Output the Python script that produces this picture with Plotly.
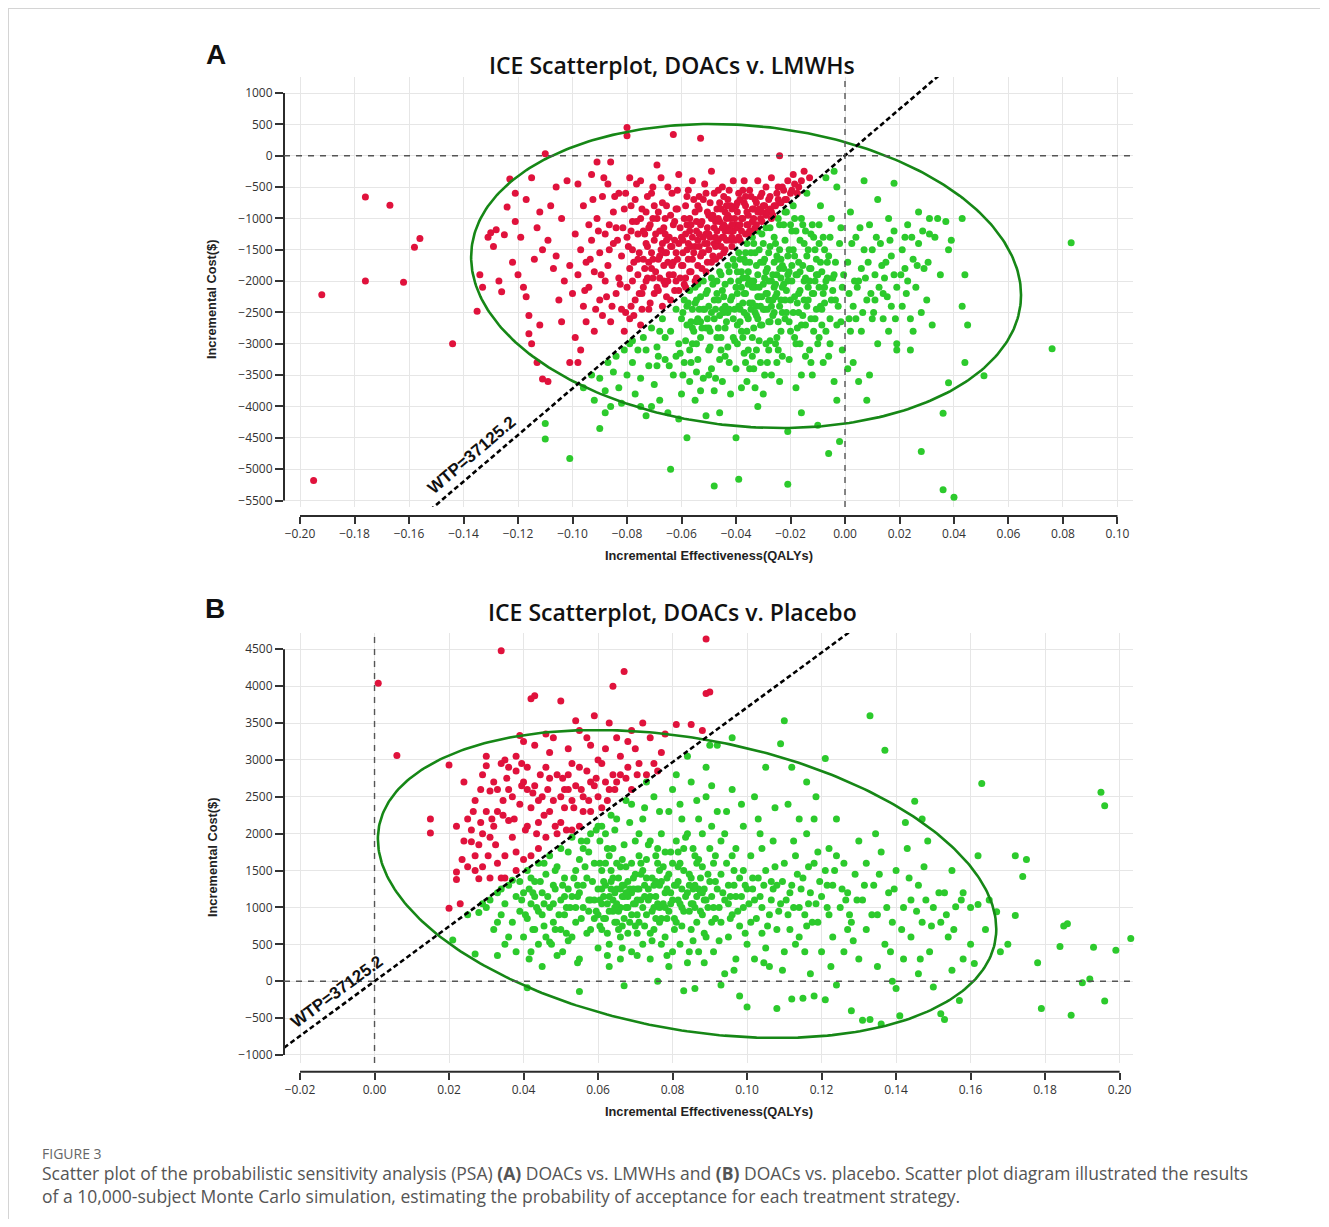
import numpy as np
import plotly.graph_objects as go

WTP = 37125.2

A_X_TICKS = [-0.20, -0.18, -0.16, -0.14, -0.12, -0.10, -0.08, -0.06, -0.04, -0.02, 0.00, 0.02, 0.04, 0.06, 0.08, 0.10]
A_X_LABELS = ["−0.20", "−0.18", "−0.16", "−0.14", "−0.12", "−0.10", "−0.08", "−0.06", "−0.04", "−0.02", "0.00", "0.02", "0.04", "0.06", "0.08", "0.10"]
A_Y_TICKS = [1000, 500, 0, -500, -1000, -1500, -2000, -2500, -3000, -3500, -4000, -4500, -5000, -5500]
A_Y_LABELS = ["1000", "500", "0", "−500", "−1000", "−1500", "−2000", "−2500", "−3000", "−3500", "−4000", "−4500", "−5000", "−5500"]
B_X_TICKS = [-0.02, 0.00, 0.02, 0.04, 0.06, 0.08, 0.10, 0.12, 0.14, 0.16, 0.18, 0.20]
B_X_LABELS = ["−0.02", "0.00", "0.02", "0.04", "0.06", "0.08", "0.10", "0.12", "0.14", "0.16", "0.18", "0.20"]
B_Y_TICKS = [4500, 4000, 3500, 3000, 2500, 2000, 1500, 1000, 500, 0, -500, -1000]
B_Y_LABELS = ["4500", "4000", "3500", "3000", "2500", "2000", "1500", "1000", "500", "0", "−500", "−1000"]

# Panel A: (incremental effectiveness, incremental cost)
A_POINTS = [
    (-0.195, -5180), (-0.192, -2220), (-0.176, -660), (-0.176, -2000), (-0.167, -790), (-0.162, -2020),
    (-0.158, -1460), (-0.156, -1320), (-0.144, -3000), (-0.135, -2480),
    (-0.134, -1900), (-0.133, -2100), (-0.131, -1300), (-0.130, -1230), (-0.129, -1450), (-0.128, -1180),
    (-0.127, -2000), (-0.126, -2170), (-0.125, -1260), (-0.124, -820), (-0.123, -370), (-0.122, -1700),
    (-0.121, -1050), (-0.120, -1900), (-0.121, -600),
    (-0.119, -1300), (-0.118, -2100), (-0.117, -2250), (-0.117, -700), (-0.116, -2550), (-0.116, -2840),
    (-0.115, -3000), (-0.114, -1650), (-0.113, -3300), (-0.112, -2700), (-0.111, -1500), (-0.111, -3560),
    (-0.110, 30), (-0.109, -3600), (-0.108, -800), (-0.107, -1800), (-0.106, -1600), (-0.105, -2300),
    (-0.104, -1000), (-0.103, -2000), (-0.102, -400), (-0.101, -3300), (-0.113, -1150), (-0.109, -1350),
    (-0.106, -500), (-0.104, -2650), (-0.101, -1750), (-0.100, -2200), (-0.115, -350), (-0.112, -900),
    (-0.099, -1250), (-0.099, -2900), (-0.098, -450), (-0.098, -1900), (-0.097, -3100), (-0.097, -1500),
    (-0.096, -2400), (-0.096, -800), (-0.095, -1700), (-0.095, -2650), (-0.094, -1100), (-0.094, -2100),
    (-0.093, -300), (-0.093, -1350), (-0.092, -2800), (-0.092, -1850), (-0.091, -100), (-0.091, -1000),
    (-0.090, -2300), (-0.090, -1550), (-0.089, -650), (-0.089, -2550), (-0.088, -1250), (-0.088, -2000),
    (-0.087, -1750), (-0.087, -450), (-0.086, -100), (-0.086, -2650), (-0.085, -1400), (-0.085, -900),
    (-0.084, -2200), (-0.084, -1150), (-0.083, -1950), (-0.083, -600), (-0.082, -2450), (-0.082, -1600),
    (-0.081, -850), (-0.081, -2800), (-0.080, 450), (-0.080, 320), (-0.080, -1300), (-0.080, -2100),
    (-0.079, -350), (-0.079, -1800), (-0.098, -3300),
    (-0.079, -2600), (-0.078, -1050), (-0.078, -1500), (-0.077, -2300), (-0.077, -700), (-0.076, -1900),
    (-0.076, -1250), (-0.075, -2700), (-0.075, -400), (-0.074, -1650), (-0.074, -2100), (-0.073, -900),
    (-0.073, -1400), (-0.072, -2450), (-0.072, -1150), (-0.071, -1800), (-0.071, -600), (-0.070, -2200),
    (-0.070, -1350), (-0.069, -150), (-0.069, -1000), (-0.068, -1950), (-0.068, -1600), (-0.067, -2400),
    (-0.067, -750), (-0.066, -1250), (-0.066, -2050), (-0.065, -500), (-0.065, -1700), (-0.064, -1450),
    (-0.064, -2300), (-0.063, 340), (-0.063, -1100), (-0.063, -1900), (-0.062, -850), (-0.062, -1550),
    (-0.061, -2150), (-0.061, -300), (-0.060, -1300), (-0.060, -1750), (-0.076, -1650), (-0.073, -2000),
    (-0.070, -800), (-0.068, -1200), (-0.066, -1550), (-0.064, -950), (-0.062, -2000), (-0.078, -2000),
    (-0.074, -1200), (-0.072, -1700), (-0.069, -2100), (-0.067, -1400), (-0.065, -2000), (-0.063, -1700),
    (-0.061, -1400), (-0.071, -1550), (-0.075, -1000), (-0.066, -1000),
    (-0.059, -2050), (-0.059, -1000), (-0.058, -1500), (-0.058, -650), (-0.057, -1850), (-0.057, -1200),
    (-0.056, -1650), (-0.056, -400), (-0.055, -2000), (-0.055, -900), (-0.054, -1350), (-0.054, -1750),
    (-0.053, 280), (-0.053, -1100), (-0.052, -1550), (-0.052, -700), (-0.051, -1850), (-0.051, -1250),
    (-0.050, -950), (-0.050, -1500), (-0.049, -250), (-0.049, -1700), (-0.048, -1150), (-0.048, -600),
    (-0.047, -1400), (-0.047, -850), (-0.046, -1600), (-0.046, -1050), (-0.045, -1300), (-0.045, -500),
    (-0.044, -1500), (-0.044, -900), (-0.043, -1150), (-0.043, -700), (-0.042, -1350), (-0.042, -1000),
    (-0.041, -1200), (-0.041, -400), (-0.040, -800), (-0.040, -1100), (-0.058, -1100), (-0.056, -1300),
    (-0.054, -800), (-0.053, -1600), (-0.051, -600), (-0.050, -1250), (-0.048, -1400), (-0.046, -750),
    (-0.045, -1150), (-0.043, -950), (-0.057, -1000), (-0.055, -1450), (-0.052, -1300), (-0.049, -1000),
    (-0.047, -1200), (-0.044, -1200), (-0.042, -800),
    (-0.039, -1300), (-0.039, -600), (-0.038, -1000), (-0.038, -1200), (-0.037, -750), (-0.037, -400),
    (-0.036, -1100), (-0.036, -900), (-0.035, -1200), (-0.035, -550), (-0.034, -850), (-0.034, -1050),
    (-0.033, -700), (-0.033, -1150), (-0.032, -900), (-0.032, -400), (-0.031, -1000), (-0.031, -650),
    (-0.030, -800), (-0.029, -950), (-0.029, -500), (-0.028, -700), (-0.027, -900), (-0.027, -350),
    (-0.026, -800), (-0.025, -600), (-0.024, 0), (-0.024, -750), (-0.023, -500), (-0.022, -700),
    (-0.021, -400), (-0.020, -600), (-0.019, -300), (-0.017, -500), (-0.015, -250), (-0.013, -350),
    (-0.016, -400),
    (-0.110, -4270), (-0.110, -4520), (-0.101, -4830), (-0.090, -4350), (-0.096, -3700), (-0.093, -3500),
    (-0.092, -3900), (-0.090, -3550), (-0.088, -3750), (-0.087, -3300), (-0.086, -4000), (-0.085, -3450),
    (-0.084, -3200), (-0.083, -3700), (-0.082, -3950), (-0.081, -3100), (-0.080, -3500), (-0.088, -4100),
    (-0.079, -3000), (-0.078, -3300), (-0.077, -3800), (-0.076, -3100), (-0.075, -3550), (-0.074, -2900),
    (-0.073, -4150), (-0.072, -3350), (-0.071, -2750), (-0.070, -3650), (-0.069, -3050), (-0.068, -3900),
    (-0.067, -2600), (-0.066, -3250), (-0.065, -4100), (-0.064, -5000), (-0.064, -2800), (-0.063, -3500),
    (-0.062, -2450), (-0.061, -3000), (-0.060, -3800), (-0.060, -2600), (-0.078, -2950), (-0.073, -3100),
    (-0.069, -3350), (-0.066, -2900), (-0.062, -3200), (-0.061, -4200), (-0.071, -4000), (-0.075, -4000),
    (-0.068, -2800),
    (-0.059, -2300), (-0.059, -3300), (-0.058, -2700), (-0.058, -4500), (-0.057, -2150), (-0.057, -3600),
    (-0.056, -2450), (-0.056, -3000), (-0.055, -2100), (-0.055, -3900), (-0.054, -2600), (-0.054, -3250),
    (-0.053, -2250), (-0.053, -2900), (-0.052, -3550), (-0.052, -2000), (-0.051, -2750), (-0.051, -4150),
    (-0.050, -2400), (-0.050, -3100), (-0.049, -1950), (-0.049, -3400), (-0.048, -2600), (-0.048, -5270),
    (-0.048, -3750), (-0.047, -2200), (-0.047, -2900), (-0.046, -1850), (-0.046, -3250), (-0.045, -2450),
    (-0.045, -3600), (-0.044, -2050), (-0.044, -2750), (-0.043, -1750), (-0.043, -3050), (-0.042, -2300),
    (-0.042, -3800), (-0.041, -1650), (-0.041, -2600), (-0.040, -2100), (-0.040, -3400), (-0.058, -2400),
    (-0.056, -2750), (-0.054, -2050), (-0.052, -2450), (-0.050, -2750), (-0.048, -2300), (-0.046, -2550),
    (-0.044, -2400), (-0.042, -2000), (-0.041, -2900), (-0.055, -2350), (-0.053, -2650), (-0.051, -2200),
    (-0.049, -2500), (-0.047, -2000), (-0.045, -2150), (-0.043, -2500), (-0.057, -3100), (-0.050, -3500),
    (-0.044, -3200), (-0.046, -4100), (-0.053, -3750), (-0.040, -4500),
    (-0.039, -1550), (-0.039, -2400), (-0.039, -5160), (-0.038, -1850), (-0.038, -2800), (-0.038, -3700),
    (-0.037, -1650), (-0.037, -2200), (-0.037, -3150), (-0.036, -1400), (-0.036, -2550), (-0.036, -1950),
    (-0.035, -2350), (-0.035, -3400), (-0.035, -1700), (-0.034, -2100), (-0.034, -1300), (-0.034, -2900),
    (-0.033, -2500), (-0.033, -1550), (-0.033, -3700), (-0.032, -1900), (-0.032, -2250), (-0.032, -1200),
    (-0.031, -2700), (-0.031, -1700), (-0.031, -3300), (-0.030, -2050), (-0.030, -1400), (-0.030, -2450),
    (-0.029, -1150), (-0.029, -1850), (-0.029, -3000), (-0.028, -2300), (-0.028, -1550), (-0.028, -2650),
    (-0.027, -1000), (-0.027, -2000), (-0.027, -3500), (-0.026, -1700), (-0.026, -2500), (-0.026, -1300),
    (-0.025, -2200), (-0.025, -2900), (-0.025, -1900), (-0.024, -1100), (-0.024, -2400), (-0.024, -1500),
    (-0.023, -2100), (-0.023, -3200), (-0.023, -1750), (-0.022, -900), (-0.022, -2600), (-0.022, -1350),
    (-0.021, -2000), (-0.021, -5240), (-0.021, -4400), (-0.021, -1600), (-0.020, -2300), (-0.020, -1100),
    (-0.020, -2800), (-0.038, -2100), (-0.036, -2800), (-0.034, -2350), (-0.032, -2600), (-0.030, -1700),
    (-0.028, -2000), (-0.026, -2100), (-0.024, -1800), (-0.022, -2300), (-0.037, -2500), (-0.035, -2000),
    (-0.033, -2100), (-0.031, -2400), (-0.029, -2200), (-0.027, -2400), (-0.025, -1600), (-0.023, -2500),
    (-0.021, -1900), (-0.039, -2000), (-0.030, -3800), (-0.025, -3300), (-0.034, -3200), (-0.028, -3100),
    (-0.036, -3600), (-0.024, -3600), (-0.032, -4000),
    (-0.019, -1500), (-0.019, -2500), (-0.019, -800), (-0.018, -1900), (-0.018, -3000), (-0.018, -1200),
    (-0.017, -2200), (-0.017, -1700), (-0.016, -2700), (-0.016, -1000), (-0.016, -3500), (-0.015, -2000),
    (-0.015, -1400), (-0.014, -2400), (-0.014, -600), (-0.013, -1800), (-0.013, -3100), (-0.012, -5700),
    (-0.012, -2200), (-0.012, -1100), (-0.011, -2600), (-0.011, -1500), (-0.010, -4300), (-0.010, -1900),
    (-0.010, -3000), (-0.009, -800), (-0.009, -2400), (-0.008, -1300), (-0.008, -3300), (-0.007, -2000),
    (-0.007, -2800), (-0.006, -1600), (-0.006, -4750), (-0.005, -2300), (-0.005, -1000), (-0.004, -3600),
    (-0.004, -1900), (-0.003, -2700), (-0.003, -500), (-0.002, -4560), (-0.002, -1400), (-0.001, -2100),
    (-0.001, -3100), (-0.017, -2500), (-0.015, -2300), (-0.013, -2000), (-0.011, -2000), (-0.009, -1700),
    (-0.014, -1600), (-0.008, -2200), (-0.018, -3700), (-0.006, -3200), (-0.012, -3500), (-0.016, -4100),
    (-0.003, -3900), (-0.007, -350), (-0.004, -250),
    (0.001, -1700), (0.001, -3400), (0.002, -900), (0.003, -2400), (0.003, -3300), (0.004, -1300),
    (0.005, -2000), (0.005, -3600), (0.006, -2800), (0.007, -1500), (0.007, -400), (0.008, -2300),
    (0.009, -3500), (0.009, -1100), (0.010, -2600), (0.011, -1900), (0.012, -700), (0.012, -3000),
    (0.013, -1400), (0.014, -2200), (0.015, -1700), (0.016, -2800), (0.016, -1000), (0.017, -2400),
    (0.018, -1900), (0.018, -1200), (0.019, -3000), (0.019, -2100), (0.002, -2800), (0.006, -1800),
    (0.010, -1500), (0.014, -2600), (0.004, -2600), (0.008, -3900), (0.017, -1600), (0.011, -2300),
    (0.018, -440), (0.021, -1500), (0.021, -2400), (0.022, -1800), (0.023, -2000), (0.023, -1100),
    (0.024, -2600), (0.025, -1650), (0.025, -2800), (0.026, -2100), (0.027, -1400), (0.027, -900),
    (0.028, -2500), (0.028, -4720), (0.029, -1800), (0.030, -2300), (0.031, -1000), (0.031, -1250),
    (0.032, -2700), (0.033, -1300), (0.034, -1000), (0.035, -1900), (0.036, -5330), (0.036, -4110),
    (0.037, -1050), (0.038, -3620), (0.038, -1500), (0.039, -1350), (0.024, -3100), (0.022, -1300),
    (0.019, -3100),
    (0.040, -5450), (0.043, -1000), (0.043, -2400), (0.044, -1900), (0.044, -3300), (0.045, -2700),
    (0.051, -3510), (0.076, -3080), (0.083, -1390),
]

# Panel A, the dense core (read at half-grid resolution)
A_POINTS_CORE = [
    (-0.0955, -2150), (-0.0935, -1650), (-0.0925, -700), (-0.0915, -2450), (-0.0905, -1200), (-0.0895, -1900),
    (-0.0885, -350), (-0.0875, -2250), (-0.0865, -1500), (-0.0855, -2400), (-0.0845, -650), (-0.0835, -1350),
    (-0.0825, -2050), (-0.0815, -1150), (-0.0805, -2500), (-0.0805, -600),
    (-0.0795, -1450), (-0.0785, -800), (-0.0775, -1700), (-0.0775, -2550), (-0.0765, -1050), (-0.0765, -450),
    (-0.0755, -1550), (-0.0755, -2200), (-0.0745, -850), (-0.0745, -2450), (-0.0735, -1250), (-0.0735, -1800),
    (-0.0725, -650), (-0.0725, -1950), (-0.0715, -1100), (-0.0715, -2350), (-0.0705, -1650), (-0.0705, -500),
    (-0.0695, -1850), (-0.0695, -1250), (-0.0685, -900), (-0.0685, -2150), (-0.0675, -1500), (-0.0675, -350),
    (-0.0665, -1750), (-0.0665, -1150), (-0.0655, -800), (-0.0655, -2250), (-0.0645, -1300), (-0.0645, -1900),
    (-0.0635, -600), (-0.0635, -1450), (-0.0625, -1050), (-0.0625, -2150), (-0.0615, -1650), (-0.0615, -850),
    (-0.0605, -1950), (-0.0605, -1150),
    (-0.0595, -1350), (-0.0595, -1750), (-0.0585, -800), (-0.0585, -1950), (-0.0575, -1400), (-0.0575, -550),
    (-0.0565, -1100), (-0.0565, -1850), (-0.0555, -1550), (-0.0555, -700), (-0.0545, -1200), (-0.0545, -1950),
    (-0.0535, -850), (-0.0535, -1450), (-0.0525, -1050), (-0.0525, -1800), (-0.0515, -1400), (-0.0515, -450),
    (-0.0505, -1150), (-0.0505, -1700), (-0.0495, -1300), (-0.0495, -750), (-0.0485, -1600), (-0.0485, -950),
    (-0.0475, -1050), (-0.0475, -1650), (-0.0465, -1350), (-0.0465, -550), (-0.0455, -850), (-0.0455, -1450),
    (-0.0445, -1100), (-0.0445, -650), (-0.0435, -1350), (-0.0435, -1000), (-0.0425, -1200), (-0.0425, -550),
    (-0.0415, -850), (-0.0415, -1450), (-0.0405, -1000), (-0.0405, -1350),
    (-0.0395, -900), (-0.0395, -1150), (-0.0385, -700), (-0.0385, -1350), (-0.0375, -1000), (-0.0375, -550),
    (-0.0365, -1250), (-0.0365, -800), (-0.0355, -950), (-0.0355, -1100), (-0.0345, -650), (-0.0345, -1200),
    (-0.0335, -1000), (-0.0325, -750), (-0.0325, -1100), (-0.0315, -850), (-0.0305, -1050), (-0.0305, -600),
    (-0.0295, -800), (-0.0285, -900), (-0.0275, -650), (-0.0265, -950), (-0.0255, -800), (-0.0245, -500),
    (-0.0235, -750), (-0.0225, -550), (-0.0215, -700), (-0.0195, -550), (-0.0185, -450), (-0.0175, -600),
    (-0.0685, -1650), (-0.0655, -1550), (-0.0625, -1350), (-0.0595, -1550), (-0.0565, -1450), (-0.0535, -1250),
    (-0.0505, -1400), (-0.0475, -1300), (-0.0445, -1300), (-0.0415, -1100), (-0.0385, -1100), (-0.0355, -1250),
    (-0.0335, -850), (-0.0305, -900), (-0.0275, -850), (-0.0245, -700), (-0.0635, -1750), (-0.0575, -1650),
    (-0.0525, -1550), (-0.0475, -1450), (-0.0445, -1550), (-0.0415, -1300), (-0.0705, -1950), (-0.0665, -2000),
    (-0.0745, -2200), (-0.0785, -2400), (-0.0655, -1350), (-0.0585, -1250), (-0.0545, -1050), (-0.0505, -900),
    (-0.0465, -1000), (-0.0435, -800), (-0.0395, -750), (-0.0365, -650), (-0.0535, -650), (-0.0615, -550),
    (-0.0705, -1000), (-0.0785, -1200), (-0.0865, -1100), (-0.0725, -1450), (-0.0585, -2100),
    (-0.0595, -2500), (-0.0585, -2950), (-0.0575, -2350), (-0.0565, -2650), (-0.0555, -2800), (-0.0545, -2300),
    (-0.0535, -2450), (-0.0525, -2750), (-0.0515, -2450), (-0.0505, -2150), (-0.0495, -2800), (-0.0485, -2050),
    (-0.0475, -2450), (-0.0465, -2750), (-0.0455, -1900), (-0.0445, -2250), (-0.0435, -2650), (-0.0425, -1850),
    (-0.0415, -2250), (-0.0405, -2450), (-0.0405, -1750), (-0.0595, -3500), (-0.0545, -3450), (-0.0495, -3050),
    (-0.0455, -2900), (-0.0425, -3300), (-0.0565, -3300), (-0.0475, -3550),
    (-0.0395, -2200), (-0.0395, -2700), (-0.0385, -1650), (-0.0385, -2450), (-0.0375, -1950), (-0.0375, -2900),
    (-0.0365, -2200), (-0.0365, -1700), (-0.0355, -2600), (-0.0355, -1850), (-0.0345, -2450), (-0.0345, -1550),
    (-0.0335, -2000), (-0.0335, -2750), (-0.0325, -1750), (-0.0325, -2400), (-0.0315, -2100), (-0.0315, -1500),
    (-0.0305, -2250), (-0.0305, -2700), (-0.0295, -1650), (-0.0295, -2450), (-0.0285, -1800), (-0.0285, -2200),
    (-0.0275, -1450), (-0.0275, -2650), (-0.0265, -1900), (-0.0265, -2300), (-0.0255, -1400), (-0.0255, -2050),
    (-0.0245, -2650), (-0.0245, -1650), (-0.0235, -1950), (-0.0235, -2300), (-0.0225, -1100), (-0.0225, -1800),
    (-0.0215, -2150), (-0.0215, -2500), (-0.0205, -1500), (-0.0205, -1850), (-0.0395, -3000), (-0.0355, -3100),
    (-0.0315, -2950), (-0.0275, -2950), (-0.0235, -2800), (-0.0335, -3400), (-0.0295, -3500), (-0.0255, -3000),
    (-0.0195, -2000), (-0.0195, -1200), (-0.0185, -2250), (-0.0185, -1600), (-0.0175, -1900), (-0.0175, -2750),
    (-0.0165, -1350), (-0.0165, -2150), (-0.0155, -1750), (-0.0155, -2550), (-0.0145, -1950), (-0.0145, -1200),
    (-0.0135, -2300), (-0.0135, -1500), (-0.0125, -1800), (-0.0125, -2600), (-0.0115, -1300), (-0.0115, -2200),
    (-0.0105, -1650), (-0.0105, -2450), (-0.0095, -2100), (-0.0095, -1100), (-0.0085, -1850), (-0.0085, -2700),
    (-0.0075, -1500), (-0.0075, -2350), (-0.0065, -1950), (-0.0055, -2600), (-0.0055, -1300), (-0.0045, -2150),
    (-0.0035, -1700), (-0.0025, -2400), (-0.0015, -1150), (-0.0005, -1900), (-0.0185, -2900), (-0.0145, -3200),
    (-0.0095, -2900), (-0.0055, -3000),
    (-0.0375, -2350), (-0.0345, -2000), (-0.0315, -2250), (-0.0285, -2450), (-0.0255, -2250), (-0.0225, -2050),
    (-0.0195, -1750), (-0.0165, -1850), (-0.0135, -2100), (-0.0105, -1900), (-0.0075, -2100), (-0.0045, -1950),
    (-0.0355, -2050), (-0.0325, -2550), (-0.0295, -1950), (-0.0265, -2550), (-0.0235, -1650), (-0.0205, -2650),
    (-0.0175, -2350), (-0.0145, -2700), (-0.0115, -2800), (-0.0085, -2450), (-0.0385, -2650), (-0.0425, -2450),
    (-0.0465, -2300), (-0.0505, -2600), (-0.0545, -2650), (-0.0445, -2500), (-0.0395, -1850), (-0.0365, -1550),
    (-0.0335, -1400), (-0.0305, -1250), (-0.0275, -1150), (-0.0245, -1000), (-0.0215, -900), (-0.0185, -1000),
    (-0.0155, -1100), (-0.0125, -1250), (-0.0095, -1400), (-0.0065, -1700), (-0.0035, -2300), (-0.0015, -2650),
    (0.0035, -2000), (0.0075, -1950), (0.0105, -2500), (0.0145, -1950), (-0.0455, -3100), (-0.0405, -2950),
    (-0.0365, -3300), (-0.0325, -3100), (-0.0285, -3300), (-0.0245, -3100), (-0.0205, -3250), (-0.0165, -3000),
    (-0.0125, -3300), (-0.0545, -3000), (-0.0605, -3150), (-0.0645, -3350), (-0.0685, -3200),
    (0.0015, -2200), (0.0025, -1400), (0.0045, -2100), (0.0055, -1150), (0.0065, -2500), (0.0085, -1700),
    (0.0095, -2200), (0.0115, -1300), (0.0125, -2100), (0.0135, -1750), (0.0155, -2250), (0.0165, -1350),
    (0.0185, -2600), (0.0205, -1900), (0.0225, -2200), (0.0245, -1300), (0.0265, -1750), (0.0285, -1200),
    (0.0305, -1700), (0.0015, -2600),
]

# Panel B: (incremental effectiveness, incremental cost)
B_POINTS = [
    (0.001, 4040), (0.006, 3060), (0.015, 2200), (0.015, 2010), (0.020, 2930), (0.020, 990), (0.022, 1480),
    (0.022, 1380), (0.023, 1050), (0.026, 2050), (0.026, 1890), (0.027, 1700), (0.028, 1390), (0.029, 1550),
    (0.030, 3050), (0.030, 2920), (0.031, 2580), (0.032, 2100), (0.033, 1600), (0.034, 4480), (0.034, 1400),
    (0.035, 3000), (0.036, 2180), (0.037, 2500), (0.038, 1750), (0.039, 3330), (0.040, 2700), (0.041, 2100),
    (0.042, 3830), (0.043, 3870), (0.043, 3200), (0.044, 1800), (0.046, 2900), (0.047, 2300), (0.048, 3300),
    (0.049, 2000), (0.050, 3800), (0.051, 2600), (0.052, 3150), (0.053, 2450), (0.054, 3530), (0.055, 2100),
    (0.055, 2900), (0.056, 2300), (0.057, 3300), (0.058, 2700), (0.059, 3600), (0.060, 2500), (0.061, 2950),
    (0.062, 3150), (0.063, 2600), (0.064, 4000), (0.065, 3300), (0.066, 2800), (0.067, 4200), (0.068, 3250),
    (0.070, 3150), (0.072, 3500), (0.074, 3300), (0.075, 2950), (0.077, 3100), (0.078, 3350), (0.081, 3480),
    (0.085, 3480), (0.088, 3400), (0.089, 3900), (0.090, 3920), (0.089, 4640),
    (0.024, 2700), (0.025, 2200), (0.027, 2450), (0.028, 1850), (0.029, 2800), (0.030, 2300), (0.031, 1950),
    (0.032, 2700), (0.033, 2300), (0.034, 2950), (0.035, 1700), (0.036, 2600), (0.037, 1950), (0.038, 2850),
    (0.039, 2400), (0.040, 1650), (0.041, 2900), (0.042, 2350), (0.043, 2650), (0.044, 2150), (0.045, 2500),
    (0.046, 1950), (0.047, 2750), (0.048, 2450), (0.049, 2800), (0.050, 2150), (0.051, 2350), (0.052, 2800),
    (0.053, 2050), (0.054, 2650), (0.056, 2500), (0.057, 2850), (0.058, 2300), (0.059, 2650), (0.060, 3000),
    (0.061, 2350), (0.062, 2700), (0.064, 2800), (0.065, 2700), (0.066, 3050), (0.068, 2900), (0.069, 2600),
    (0.071, 2950), (0.073, 2800), (0.027, 1500), (0.025, 1550), (0.031, 1400), (0.035, 1400), (0.038, 1500),
    (0.042, 1700), (0.052, 2600), (0.044, 2450), (0.036, 2900), (0.041, 2600), (0.047, 3100), (0.053, 2950),
    (0.058, 3200), (0.063, 3500), (0.069, 3400), (0.046, 3350), (0.038, 3050), (0.033, 2600), (0.029, 2000),
    (0.024, 1900), (0.022, 2100), (0.040, 3250), (0.055, 3400), (0.050, 2500),
    (0.0235, 1650), (0.0265, 2300), (0.0285, 2600), (0.0305, 1700), (0.0325, 1850), (0.0345, 2250),
    (0.0355, 2750), (0.0375, 2200), (0.0395, 2650), (0.0405, 2050), (0.0425, 2550), (0.0435, 2000),
    (0.0455, 2250), (0.0465, 2600), (0.0485, 2100), (0.0505, 2750), (0.0515, 2050), (0.0535, 2350),
    (0.0555, 2600), (0.0575, 2450), (0.0595, 2750), (0.0625, 2450), (0.0645, 2600), (0.0675, 2750),
    (0.0705, 2800), (0.0445, 2800), (0.0395, 2950), (0.0345, 2450), (0.0315, 2200), (0.0285, 2150),
    (0.031, 1100), (0.032, 700), (0.033, 1200), (0.034, 900), (0.035, 1050), (0.036, 600), (0.036, 1300),
    (0.037, 800), (0.038, 1150), (0.038, 400), (0.039, 950), (0.039, 1350), (0.030, 1000), (0.034, 1250),
    (0.035, 500), (0.037, 1370), (0.033, 800), (0.040, 600),
    (0.040, 1200), (0.041, 850), (0.041, 1500), (0.042, 400), (0.042, 1050), (0.043, 1350), (0.043, 700),
    (0.044, 1600), (0.044, 950), (0.045, 200), (0.045, 1200), (0.046, 1450), (0.046, 600), (0.047, 1000),
    (0.047, 1700), (0.048, 800), (0.048, 1300), (0.049, 1550), (0.049, 350), (0.050, 1100), (0.050, 700),
    (0.044, 500), (0.042, 1400), (0.048, 1050), (0.045, 900), (0.043, 1150),
    (0.051, 1400), (0.051, 900), (0.052, 1750), (0.052, 550), (0.053, 1150), (0.053, 1950), (0.054, 800),
    (0.054, 1500), (0.055, 1200), (0.055, 300), (0.056, 1800), (0.056, 1000), (0.057, 650), (0.057, 1400),
    (0.058, 1100), (0.058, 2000), (0.059, 850), (0.059, 1600), (0.060, 1250), (0.060, 450), (0.050, 1800),
    (0.052, 1250), (0.054, 1000), (0.056, 1300), (0.058, 700), (0.053, 600), (0.055, 1650), (0.057, 1900),
    (0.059, 1100), (0.051, 1150), (0.060, 2100),
    (0.060, 900), (0.061, 1500), (0.061, 1050), (0.061, 700), (0.062, 1300), (0.062, 850), (0.062, 2000),
    (0.063, 1150), (0.063, 1700), (0.063, 500), (0.064, 950), (0.064, 1400), (0.064, 1100), (0.065, 800),
    (0.065, 1250), (0.065, 2200), (0.066, 1000), (0.066, 1550), (0.066, 300), (0.067, 1150), (0.067, 850),
    (0.067, 1850), (0.068, 1350), (0.068, 650), (0.068, 1000), (0.069, 1200), (0.069, 2400), (0.069, 900),
    (0.070, 1450), (0.070, 750), (0.070, 1050), (0.061, 1250), (0.063, 950), (0.065, 1050), (0.067, 1300),
    (0.069, 1600), (0.062, 1600), (0.064, 1800), (0.066, 1250), (0.068, 1150), (0.070, 1900), (0.063, 200),
    (0.066, 600), (0.069, 400), (0.061, 2100), (0.065, 1600),
    (0.071, 1250), (0.071, 800), (0.071, 1700), (0.072, 1000), (0.072, 2200), (0.072, 500), (0.073, 1400),
    (0.073, 900), (0.074, 1150), (0.074, 1900), (0.074, 300), (0.075, 1300), (0.075, 700), (0.075, 2500),
    (0.076, 1050), (0.076, 1600), (0.077, 850), (0.077, 1350), (0.077, 2000), (0.078, 1200), (0.078, 600),
    (0.078, 1750), (0.079, 950), (0.079, 1450), (0.079, 2300), (0.080, 1100), (0.080, 400), (0.073, 1650),
    (0.076, 1800), (0.072, 1500), (0.075, 1000), (0.078, 1000), (0.080, 1600), (0.071, 2000), (0.074, 650),
    (0.077, 500), (0.079, 200), (0.073, 2700), (0.076, 2850), (0.080, 2600),
    (0.081, 1300), (0.081, 800), (0.081, 1900), (0.082, 1050), (0.082, 2400), (0.082, 500), (0.083, 1500),
    (0.083, 950), (0.084, 1200), (0.084, 2000), (0.084, 250), (0.085, 1400), (0.085, 700), (0.085, 2700),
    (0.086, 1000), (0.086, 1700), (0.087, 1250), (0.087, 400), (0.087, 2200), (0.088, 900), (0.088, 1550),
    (0.089, 1100), (0.089, 2900), (0.089, 600), (0.090, 1350), (0.090, 1800), (0.083, 1800), (0.086, 1300),
    (0.088, 1200), (0.082, 1600), (0.085, 1050), (0.087, 1650), (0.089, 2500), (0.084, 3050), (0.090, 3200),
    (0.081, 2800), (0.086, -100), (0.088, 2000),
    (0.091, 1000), (0.091, 1600), (0.091, 400), (0.092, 1250), (0.092, 2300), (0.093, 800), (0.093, 1450),
    (0.094, 1100), (0.094, 2000), (0.094, 100), (0.095, 1300), (0.095, 600), (0.096, 900), (0.096, 1700),
    (0.096, 2600), (0.097, 1150), (0.097, 300), (0.098, 1400), (0.098, 750), (0.099, 1000), (0.099, 2100),
    (0.100, 1250), (0.100, 500), (0.092, 3200), (0.096, 3300), (0.093, 1900), (0.095, 1050), (0.097, 1800),
    (0.099, 1500), (0.098, -200),
    (0.101, 800), (0.101, 1700), (0.102, 1100), (0.102, 300), (0.103, 1400), (0.103, 2200), (0.104, 650),
    (0.104, 1000), (0.105, 1500), (0.105, 2900), (0.106, 900), (0.106, 200), (0.107, 1250), (0.107, 1900),
    (0.108, 700), (0.108, -370), (0.109, 1050), (0.109, 3220), (0.110, 3530), (0.110, 1600), (0.100, -350),
    (0.102, 2500), (0.105, 450), (0.108, 1300), (0.104, 1800), (0.110, 400),
    (0.111, 900), (0.111, 2400), (0.112, 1300), (0.112, -240), (0.113, 500), (0.113, 1700), (0.114, 1000),
    (0.114, 2200), (0.115, -230), (0.115, 1400), (0.116, 750), (0.116, 2000), (0.117, 1200), (0.117, 100),
    (0.118, -200), (0.118, 1600), (0.119, 800), (0.119, 1750), (0.120, 1150), (0.120, 400), (0.112, 2900),
    (0.116, 2700), (0.118, 2200), (0.114, 600),
    (0.121, 3020), (0.121, -250), (0.121, 1500), (0.122, 900), (0.122, 1800), (0.123, 600), (0.123, 1300),
    (0.124, 2200), (0.124, -50), (0.125, 1000), (0.126, 1600), (0.126, 400), (0.127, 1200), (0.128, -400),
    (0.128, 800), (0.129, 1450), (0.130, 300), (0.130, 1900), (0.124, 1700), (0.127, 700),
    (0.131, -530), (0.131, 1100), (0.132, 700), (0.132, 1600), (0.133, 3600), (0.133, -520), (0.134, 1300),
    (0.135, 200), (0.135, 900), (0.136, -580), (0.136, 1750), (0.137, 3130), (0.137, 500), (0.138, 1200),
    (0.139, 0), (0.139, 800), (0.140, 1500), (0.140, -100),
    (0.141, -470), (0.142, 1000), (0.142, 300), (0.143, 1800), (0.144, 1100), (0.144, 600), (0.145, 2440),
    (0.146, 1300), (0.146, 100), (0.147, 2200), (0.147, 800), (0.148, 1100), (0.149, 400), (0.150, -80),
    (0.150, 1000),
    (0.152, -440), (0.152, 800), (0.153, -520), (0.153, 1200), (0.154, 600), (0.155, 150), (0.155, 1500),
    (0.156, 1010), (0.157, -260), (0.158, 1200), (0.158, 300), (0.160, 500), (0.160, 1000),
    (0.161, 240), (0.162, 1040), (0.162, 1700), (0.163, 2680), (0.164, 700), (0.165, 1100), (0.167, 940),
    (0.168, 400),
    (0.170, 500), (0.172, 890), (0.172, 1700), (0.174, 1420), (0.175, 1650), (0.178, 250), (0.179, -370),
    (0.184, 470), (0.185, 750), (0.186, 780), (0.187, -460), (0.190, -20), (0.192, 30), (0.193, 460),
    (0.195, 2560), (0.196, 2380), (0.196, -270), (0.199, 420), (0.203, 580),
    (0.021, 560), (0.027, 370), (0.028, 930), (0.041, -90), (0.047, 530), (0.055, -140), (0.067, -60),
    (0.076, 0), (0.083, -130), (0.093, -50), (0.025, 900), (0.029, 1050), (0.033, 350),
]

# Panel B, the dense core (read at half-grid resolution)
B_POINTS_CORE = [
    (0.0405, 900), (0.0415, 1250), (0.0425, 700), (0.0435, 1000), (0.0445, 1350), (0.0455, 750),
    (0.0465, 1150), (0.0475, 500), (0.0485, 1500), (0.0495, 900), (0.0505, 1300), (0.0515, 650),
    (0.0525, 1000), (0.0535, 1400), (0.0545, 1150), (0.0555, 850), (0.0565, 1550), (0.0575, 1100),
    (0.0585, 1350), (0.0595, 950), (0.0415, 300), (0.0455, 1600), (0.0505, 400), (0.0545, 250),
    (0.0575, 1750), (0.0485, 1250),
    (0.0605, 1100), (0.0605, 1600), (0.0615, 850), (0.0615, 1350), (0.0625, 1050), (0.0625, 650),
    (0.0635, 1250), (0.0635, 1500), (0.0645, 800), (0.0645, 1200), (0.0655, 950), (0.0655, 1400),
    (0.0665, 1150), (0.0665, 750), (0.0675, 1000), (0.0675, 1550), (0.0685, 1250), (0.0685, 800),
    (0.0695, 1050), (0.0695, 1400), (0.0705, 900), (0.0705, 1250), (0.0715, 1100), (0.0715, 1450),
    (0.0725, 1300), (0.0725, 750), (0.0735, 1100), (0.0735, 1850), (0.0745, 1400), (0.0745, 950),
    (0.0755, 1150), (0.0755, 1700), (0.0765, 1300), (0.0765, 800), (0.0775, 1050), (0.0775, 1550),
    (0.0785, 1400), (0.0785, 850), (0.0795, 1200), (0.0795, 1750), (0.0605, 1900), (0.0645, 2050),
    (0.0685, 2150), (0.0725, 2350), (0.0765, 2300), (0.0625, 350), (0.0665, 450), (0.0705, 350),
    (0.0745, 550), (0.0785, 350),
    (0.0805, 1300), (0.0805, 850), (0.0815, 1100), (0.0815, 1550), (0.0825, 1250), (0.0825, 750),
    (0.0835, 1150), (0.0835, 1950), (0.0845, 950), (0.0845, 1450), (0.0855, 1250), (0.0855, 1800),
    (0.0865, 800), (0.0865, 1150), (0.0875, 1400), (0.0875, 950), (0.0885, 1250), (0.0885, 650),
    (0.0895, 1450), (0.0895, 1000), (0.0905, 1150), (0.0905, 2100), (0.0915, 850), (0.0915, 1350),
    (0.0925, 1000), (0.0935, 1200), (0.0945, 1600), (0.0955, 850), (0.0965, 1300), (0.0975, 950),
    (0.0985, 1150), (0.0995, 1300), (0.0825, 2200), (0.0865, 2450), (0.0905, 2650), (0.0945, 2300),
    (0.0985, 2400), (0.0845, 400), (0.0885, 250), (0.0925, 550), (0.0965, 150), (0.0995, 650),
    (0.1005, 1050), (0.1015, 1400), (0.1025, 850), (0.1035, 1150), (0.1045, 1300), (0.1055, 750),
    (0.1065, 1100), (0.1075, 1550), (0.1085, 950), (0.1095, 1350), (0.1105, 1100), (0.1115, 700),
    (0.1125, 1000), (0.1135, 1450), (0.1145, 1250), (0.1155, 900), (0.1165, 1550), (0.1175, 800),
    (0.1185, 1050), (0.1195, 1350), (0.1215, 1000), (0.1235, 1500), (0.1255, 1250), (0.1275, 900),
    (0.1295, 1100), (0.1035, 2000), (0.1075, 2350), (0.1125, 1900), (0.1185, 2500), (0.1045, 250),
    (0.1095, 150), (0.1155, 400), (0.1225, 200), (0.1285, 550),
    (0.1315, 1300), (0.1335, 900), (0.1355, 1450), (0.1375, 1000), (0.1395, 1250), (0.1415, 700),
    (0.1435, 1400), (0.1455, 950), (0.1475, 1550), (0.1495, 750), (0.1515, 1200), (0.1535, 900),
    (0.1555, 700), (0.1575, 1100), (0.1345, 2000), (0.1425, 2150), (0.1485, 1900), (0.1385, 400),
    (0.1465, 300),
    (0.0615, 1150), (0.0645, 1000), (0.0675, 1200), (0.0705, 1100), (0.0735, 1250), (0.0765, 1000),
    (0.0795, 1050), (0.0825, 1000), (0.0855, 1050), (0.0885, 1100), (0.0635, 1350), (0.0665, 1300),
    (0.0695, 1250), (0.0725, 1150), (0.0755, 1350), (0.0785, 1250), (0.0815, 1350), (0.0845, 1300),
    (0.0875, 1200), (0.0605, 750), (0.0655, 700), (0.0705, 650), (0.0755, 850), (0.0805, 700),
    (0.0855, 550), (0.0905, 800), (0.0955, 1150), (0.0575, 950), (0.0545, 1300), (0.0515, 1000),
    (0.0485, 700), (0.0455, 1050), (0.0425, 1200), (0.0395, 1100), (0.0625, 1800), (0.0665, 1650),
    (0.0715, 1600), (0.0765, 1500), (0.0815, 1750), (0.0865, 1600), (0.0915, 1700), (0.0965, 1500),
    (0.1015, 1250), (0.1065, 1350), (0.1115, 1200), (0.1165, 1050), (0.1215, 1300), (0.1265, 1100),
    (0.0555, 1900), (0.0595, 2050), (0.0635, 2250), (0.0675, 2450),
]

# 95% ellipses: centre, half-width (QALY), half-height ($) and tilt of the extreme-x points ($)
A_ELLIPSE = {"cx": -0.0363, "cy": -1919, "rx": 0.1009, "ry": 2406, "tilt": -303}
B_ELLIPSE = {"cx": 0.0839, "cy": 1318, "rx": 0.0830, "ry": 1997, "tilt": -610}

RED = "rgb(224,18,60)"
GREEN = "rgb(44,202,44)"
ELLIPSE_COLOR = "rgb(22,135,22)"

# ---------------------------------------------------------------- layout geometry (screen pixels)
OFF = 8
W, H = 1313, 1211


def fx(px):
    return (px - OFF) / W


def fy(py):
    return 1 - (py - OFF) / H


PLOT_LEFT, PLOT_RIGHT = 284, 1133
A_TOP, A_BOTTOM, A_AXIS = 77, 507, 516
B_TOP, B_BOTTOM, B_AXIS = 633, 1063, 1071.7

A_XRANGE = [-0.20587, 0.10569]
A_YRANGE = [(155.7 - A_BOTTOM) / 0.06269, (155.7 - A_TOP) / 0.06269]
B_XRANGE = [-0.0243, 0.2036]
B_YRANGE = [(981.2 - B_BOTTOM) / 0.07376, (981.2 - B_TOP) / 0.07376]

fig = go.Figure()


def add_panel(points, ell, xa, ya, xr):
    eff = np.array([p[0] for p in points])
    cost = np.array([p[1] for p in points])
    above = cost > WTP * eff
    fig.add_trace(go.Scatter(x=eff[~above], y=cost[~above], mode="markers", xaxis=xa, yaxis=ya,
                             marker=dict(color=GREEN, size=7, line=dict(width=0)), cliponaxis=False,
                             showlegend=False, hoverinfo="x+y"))
    fig.add_trace(go.Scatter(x=eff[above], y=cost[above], mode="markers", xaxis=xa, yaxis=ya,
                             marker=dict(color=RED, size=7, line=dict(width=0)), cliponaxis=False,
                             showlegend=False, hoverinfo="x+y"))
    t = np.linspace(0, 2 * np.pi, 361)
    ex = ell["cx"] + ell["rx"] * np.cos(t)
    ey = ell["cy"] + ell["ry"] * np.sin(t) + ell["tilt"] * np.cos(t)
    fig.add_trace(go.Scatter(x=ex, y=ey, mode="lines", xaxis=xa, yaxis=ya,
                             line=dict(color=ELLIPSE_COLOR, width=2.6), showlegend=False, hoverinfo="skip"))
    wx = np.array(xr)
    fig.add_trace(go.Scatter(x=wx, y=WTP * wx, mode="lines", xaxis=xa, yaxis=ya,
                             line=dict(color="black", width=2.6, dash="5px,3px"), showlegend=False,
                             hoverinfo="skip"))


add_panel(A_POINTS + A_POINTS_CORE, A_ELLIPSE, "x", "y", A_XRANGE)
add_panel(B_POINTS + B_POINTS_CORE, B_ELLIPSE, "x2", "y2", B_XRANGE)

tickfont = dict(family="Open Sans", size=12, color="#333")
grid = "#e6e6e6"
common_x = dict(showgrid=True, gridcolor=grid, gridwidth=1, zeroline=False, showline=False,
                ticks="outside", ticklen=7, tickwidth=1.5, tickcolor="#333", tickfont=tickfont,
                anchor="free", automargin=False, tickmode="array")
common_y = dict(showgrid=True, gridcolor=grid, gridwidth=1, zeroline=False, showline=False,
                ticks="outside", ticklen=8, tickwidth=1.5, tickcolor="#333", tickfont=tickfont,
                automargin=False, tickmode="array")

dom_x = [fx(PLOT_LEFT), fx(PLOT_RIGHT)]
fig.update_layout(
    xaxis=dict(common_x, domain=dom_x, range=A_XRANGE, tickvals=A_X_TICKS, ticktext=A_X_LABELS,
               position=fy(A_AXIS)),
    yaxis=dict(common_y, domain=[fy(A_BOTTOM), fy(A_TOP)], range=A_YRANGE, tickvals=A_Y_TICKS,
               ticktext=A_Y_LABELS, anchor="x"),
    xaxis2=dict(common_x, domain=dom_x, range=B_XRANGE, tickvals=B_X_TICKS, ticktext=B_X_LABELS,
                position=fy(B_AXIS)),
    yaxis2=dict(common_y, domain=[fy(B_BOTTOM), fy(B_TOP)], range=B_YRANGE, tickvals=B_Y_TICKS,
                ticktext=B_Y_LABELS, anchor="x2"),
    width=W, height=H, margin=dict(l=0, r=0, t=0, b=0),
    paper_bgcolor="white", plot_bgcolor="white", showlegend=False,
)

shapes = []
axis_line = dict(color="#2b2b2b", width=2)
zero_line = dict(color="#555", width=1.4, dash="6px,6px")
for xs, ys, xt, yt, axpos in (("x", "y", A_X_TICKS, A_Y_TICKS, A_AXIS),
                              ("x2", "y2", B_X_TICKS, B_Y_TICKS, B_AXIS)):
    shapes.append(dict(type="line", xref=xs + " domain", yref=ys, x0=0, x1=0, y0=min(yt), y1=max(yt),
                       line=axis_line, layer="above"))
    shapes.append(dict(type="line", xref=xs, yref="paper", x0=min(xt), x1=max(xt), y0=fy(axpos),
                       y1=fy(axpos), line=axis_line, layer="above"))
    shapes.append(dict(type="line", xref=xs + " domain", yref=ys, x0=0, x1=1, y0=0, y1=0,
                       line=zero_line, layer="above"))
    shapes.append(dict(type="line", xref=xs, yref=ys + " domain", x0=0, x1=0, y0=0, y1=1,
                       line=zero_line, layer="above"))

shapes.append(dict(type="line", xref="paper", yref="paper", x0=0, x1=fx(1320), y0=fy(8.5), y1=fy(8.5),
                   line=dict(color="#d4d4d4", width=1)))
shapes.append(dict(type="line", xref="paper", yref="paper", x0=fx(8.5), x1=fx(8.5), y0=0, y1=fy(8),
                   line=dict(color="#d4d4d4", width=1)))
fig.update_layout(shapes=shapes)

ann = []
title_font = dict(family="Open Sans", size=23, color="#111", weight=600)
letter_font = dict(family="Liberation Sans", size=28, color="#111", weight="bold")
axis_title_font = dict(family="Liberation Sans", size=12.8, color="#222", weight="bold")
wtp_font = dict(family="Liberation Sans", size=17, color="#111", weight="bold")

ann.append(dict(text="A", x=fx(216), y=fy(55), font=letter_font))
ann.append(dict(text="ICE Scatterplot, DOACs v. LMWHs", x=fx(672), y=fy(65), font=title_font))
ann.append(dict(text="B", x=fx(215), y=fy(609), font=letter_font))
ann.append(dict(text="ICE Scatterplot, DOACs v. Placebo", x=fx(672), y=fy(612), font=title_font))
for yc in (556, 1111):
    ann.append(dict(text="Incremental Effectiveness(QALYs)", x=fx(708.5), y=fy(yc), font=axis_title_font))
for yc in (300, 858):
    ann.append(dict(text="Incremental Cost($)", x=fx(212), y=fy(yc), font=axis_title_font, textangle=-90))
ann.append(dict(text="WTP=37125.2", x=fx(471), y=fy(455), font=wtp_font, textangle=-40.5))
ann.append(dict(text="WTP=37125.2", x=fx(337), y=fy(991), font=wtp_font, textangle=-36.3))

cap_font = dict(family="Open Sans", size=17.5, color="#555")
ann.append(dict(text="FIGURE 3", x=fx(40), y=fy(1153), xanchor="left",
                font=dict(family="Open Sans", size=14, color="#666")))
ann.append(dict(text="Scatter plot of the probabilistic sensitivity analysis (PSA) <b>(A)</b> DOACs vs. LMWHs and "
                     "<b>(B)</b> DOACs vs. placebo. Scatter plot diagram illustrated the results",
                x=fx(40), y=fy(1173), xanchor="left", font=cap_font))
ann.append(dict(text="of a 10,000-subject Monte Carlo simulation, estimating the probability of acceptance "
                     "for each treatment strategy.",
                x=fx(40), y=fy(1196), xanchor="left", font=cap_font))

for a in ann:
    a.setdefault("xref", "paper")
    a.setdefault("yref", "paper")
    a.setdefault("showarrow", False)
    a.setdefault("xanchor", "center")
    a.setdefault("yanchor", "middle")
fig.update_layout(annotations=ann)

fig.write_html("out.html")
